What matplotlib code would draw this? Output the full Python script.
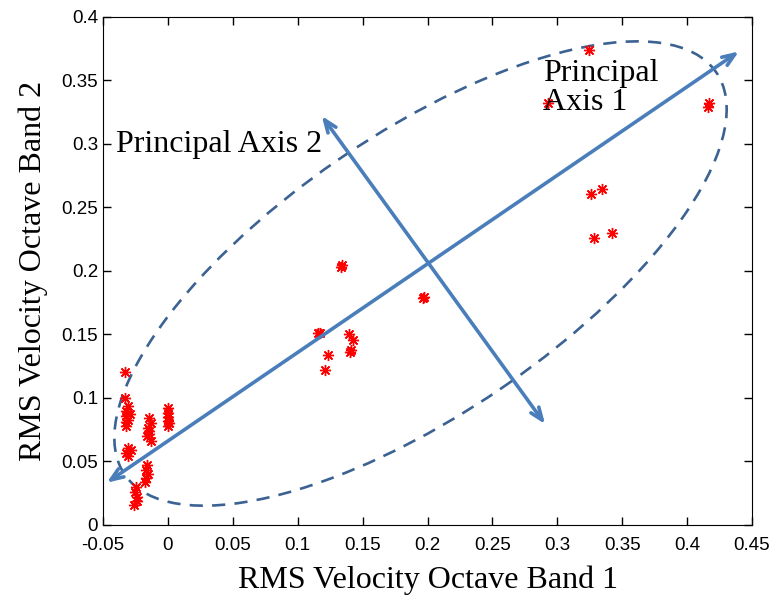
import numpy as np
import matplotlib
matplotlib.use('Agg')
from matplotlib import pyplot as plt
from matplotlib.patches import Ellipse

# data (RMS velocity, octave bands 1 and 2)
band1 = [-0.0334, -0.0334, -0.031, -0.032, -0.032, -0.031, -0.032, -0.029, -0.032,
         -0.031, -0.031, -0.0286, -0.032,
         -0.0146, -0.013, -0.015, -0.0146, -0.016, -0.013, -0.0146,
         0.0, 0.0, 0.0, 0.0, 0.0, 0.001,
         -0.0162, -0.017, -0.0155, -0.0165, -0.018,
         -0.0244, -0.025, -0.0235, -0.024, -0.026,
         0.1331, 0.1340, 0.1964, 0.1975, 0.1153, 0.1170, 0.1396, 0.1429,
         0.1412, 0.1405, 0.1234, 0.1208,
         0.3247, 0.2932, 0.4166, 0.4160, 0.3263, 0.3344, 0.328, 0.3425]
band2 = [0.1203, 0.1003, 0.0938, 0.090, 0.086, 0.083, 0.078, 0.087, 0.081,
         0.061, 0.0547, 0.059, 0.057,
         0.0846, 0.080, 0.076, 0.072, 0.070, 0.0664, 0.074,
         0.0924, 0.088, 0.085, 0.082, 0.078, 0.080,
         0.0469, 0.043, 0.040, 0.037, 0.0339,
         0.030, 0.026, 0.022, 0.019, 0.0156,
         0.2031, 0.2045, 0.1789, 0.1795, 0.151, 0.1515, 0.1503, 0.146,
         0.138, 0.136, 0.134, 0.1224,
         0.3742, 0.3326, 0.3326, 0.329, 0.261, 0.2648, 0.226, 0.2297]

# principal axes (tail, head) and the enclosing ellipse
axis1 = [(-0.0471, 0.0333), (0.4399, 0.3729)]
axis2 = [(0.1185, 0.3221), (0.2906, 0.0794)]
ell_center = (0.1946, 0.198)
ell_w, ell_h, ell_ang = 0.555, 0.2195, 35.0

fig = plt.figure(figsize=(7.71, 5.98), dpi=100)
ax = fig.add_axes([0.1336, 0.1221, 0.8418, 0.8495])

ax.plot(band1, band2, linestyle='none', marker=(8, 2, 0), color='red',
        markersize=8, markeredgewidth=1.0)

ax.add_patch(Ellipse(ell_center, ell_w, ell_h, angle=ell_ang, fill=False,
                     edgecolor='#3b6292', lw=1.9, linestyle=(0, (5, 3.5))))

arrow_col = '#4a7ebb'
for a in [axis1, axis2]:
    ax.annotate('', xy=a[1], xytext=a[0],
                arrowprops=dict(arrowstyle='<->,head_length=0.9,head_width=0.35',
                                lw=2.6, color=arrow_col, shrinkA=0, shrinkB=0))

serif = ['Liberation Serif', 'DejaVu Serif']
ax.text(-0.040, 0.311, 'Principal Axis 2', family=serif, fontsize=23,
        va='top', ha='left')
ax.text(0.289, 0.367, 'Principal\nAxis 1', family=serif, fontsize=23,
        va='top', ha='left', linespacing=1.0)

ax.set_xlim(-0.05, 0.45)
ax.set_ylim(0, 0.4)
ax.set_xticks(np.arange(-0.05, 0.451, 0.05))
ax.set_yticks(np.arange(0, 0.401, 0.05))
ax.set_xticklabels(['-0.05', '0', '0.05', '0.1', '0.15', '0.2', '0.25', '0.3',
                    '0.35', '0.4', '0.45'])
ax.set_yticklabels(['0', '0.05', '0.1', '0.15', '0.2', '0.25', '0.3', '0.35', '0.4'])
ax.tick_params(direction='in', top=True, right=True, length=6, width=1,
               labelsize=13.5)
ax.tick_params(axis='x', pad=9)
for lab in ax.get_xticklabels() + ax.get_yticklabels():
    lab.set_family(['Liberation Sans', 'DejaVu Sans'])

ax.set_xlabel('RMS Velocity Octave Band 1', family=serif, fontsize=23, labelpad=8)
ax.set_ylabel('RMS Velocity Octave Band 2', family=serif, fontsize=23, labelpad=10)

fig.savefig('out.png', dpi=100)
